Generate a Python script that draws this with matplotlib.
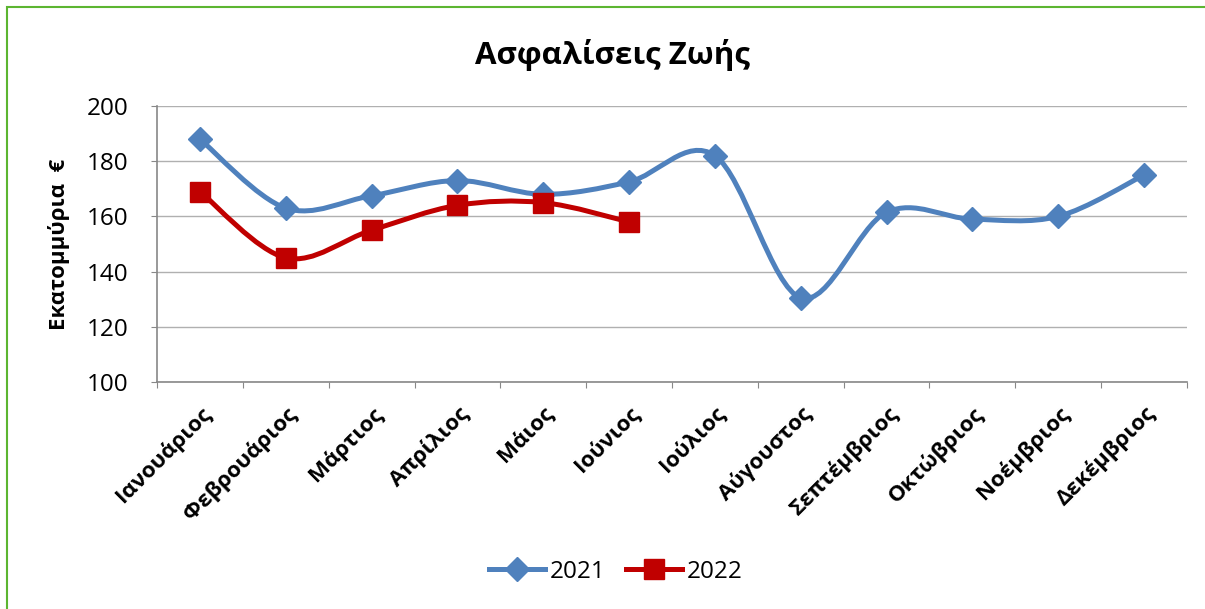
import matplotlib.pyplot as plt
import numpy as np
from matplotlib.path import Path
from matplotlib.patches import PathPatch, Rectangle
from matplotlib.lines import Line2D

plt.rcParams['font.family'] = ['Open Sans', 'DejaVu Sans']

months = ['Ιανουάριος', 'Φεβρουάριος', 'Μάρτιος', 'Απρίλιος', 'Μάιος', 'Ιούνιος',
          'Ιούλιος', 'Αύγουστος', 'Σεπτέμβριος', 'Οκτώβριος', 'Νοέμβριος', 'Δεκέμβριος']
vals_2021 = [188, 163, 167.5, 173, 168, 172.5, 182, 130.5, 161.5, 159, 160, 175]
vals_2022 = [169, 145, 155, 164, 165, 158]

blue = '#4F81BD'
red = '#C00000'


def smooth_path(x, y):
    # Excel-style smoothed line: cubic Bezier segments (Catmull-Rom control points)
    pts = np.column_stack([x, y]).astype(float)
    verts = [pts[0]]
    codes = [Path.MOVETO]
    n = len(pts)
    for i in range(n - 1):
        p0 = pts[max(i - 1, 0)]
        p1 = pts[i]
        p2 = pts[i + 1]
        p3 = pts[min(i + 2, n - 1)]
        c1 = p1 + (p2 - p0) / 6
        c2 = p2 - (p3 - p1) / 6
        verts += [c1, c2, p2]
        codes += [Path.CURVE4] * 3
    return Path(verts, codes)


fig = plt.figure(figsize=(12.05, 6.09), dpi=100)
ax = fig.add_axes([157 / 1205, 1 - 382 / 609, 1030 / 1205, 276 / 609])

x21 = np.arange(len(vals_2021))
x22 = np.arange(len(vals_2022))
ax.add_patch(PathPatch(smooth_path(x21, vals_2021), fill=False, ec=blue, lw=3.6,
                       capstyle='round', zorder=3))
ax.add_patch(PathPatch(smooth_path(x22, vals_2022), fill=False, ec=red, lw=3.6,
                       capstyle='round', zorder=3))
ax.plot(x21, vals_2021, ls='none', marker='D', ms=12.5, color=blue, zorder=4)
ax.plot(x22, vals_2022, ls='none', marker='s', ms=14.5, color=red, zorder=4)

ax.set_xlim(-0.5, len(months) - 0.5)
ax.set_ylim(100, 200)
ax.set_yticks(np.arange(100, 201, 20))
ax.tick_params(axis='y', labelsize=17.5, length=4.5, color='#888888', pad=16)
ax.grid(axis='y', color='#B0B0B0', lw=1)
ax.set_axisbelow(True)

ax.set_xticks(np.arange(-0.5, len(months), 1), minor=False)
ax.set_xticklabels([])
ax.set_xticks(np.arange(len(months)), minor=True)
ax.set_xticklabels(months, minor=True, rotation=45, ha='right', va='top',
                   rotation_mode='anchor', fontsize=16, fontweight='bold')
ax.tick_params(axis='x', which='major', length=4.5, color='#888888')
ax.tick_params(axis='x', which='minor', length=0, pad=15)

for s in ['top', 'right']:
    ax.spines[s].set_visible(False)
for s in ['left', 'bottom']:
    ax.spines[s].set_color('#888888')
    ax.spines[s].set_linewidth(1.2)

ax.set_ylabel('Εκατομμύρια  €', fontsize=16, fontweight='bold', labelpad=12)
fig.text(0.508, 1 - 55 / 609, 'Ασφαλίσεις Ζωής', ha='center', va='center',
         fontsize=22.5, fontweight='bold')

handles = [Line2D([], [], color=blue, lw=3.6, marker='D', ms=12.5),
           Line2D([], [], color=red, lw=3.6, marker='s', ms=14.5)]
fig.legend(handles, ['2021', '2022'], loc='center', bbox_to_anchor=(0.511, 1 - 572 / 609),
           ncol=2, frameon=False, fontsize=17.5, handlelength=2.3, columnspacing=0.85,
           handletextpad=0.2)

fig.patches.append(Rectangle((7 / 1205, -0.01), 1.02, 1 - 7 / 609 + 0.01,
                             transform=fig.transFigure, fill=False, ec='#5CB531',
                             lw=1.5))

fig.savefig('out.png', dpi=100, facecolor='white')
